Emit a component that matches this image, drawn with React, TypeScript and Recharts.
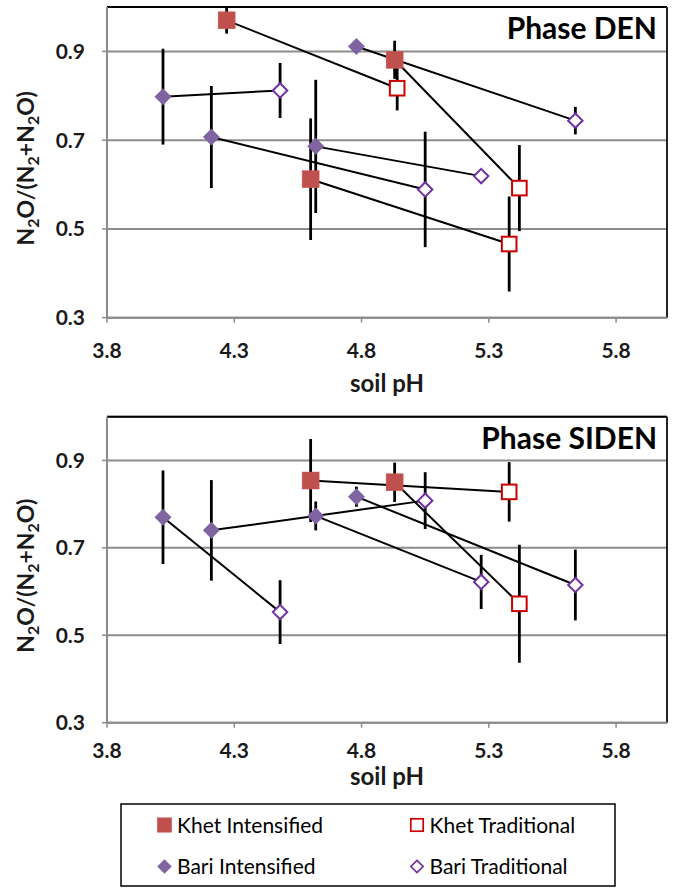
import React from "react";
import { ScatterChart, Scatter, XAxis, YAxis, CartesianGrid, ErrorBar, ReferenceLine } from "recharts";

const FONT = "Lato, 'Open Sans', sans-serif";
const GRID = "#8c8c8c";

const phTicks = [3.8, 4.3, 4.8, 5.3, 5.8];
const ratioTicks = [0.3, 0.5, 0.7, 0.9];

// soil pH per site; intensified[i] is paired with traditional[i]
const khetIntPh = [4.27, 4.93, 4.6];
const khetTradPh = [4.94, 5.42, 5.38];
const bariIntPh = [4.02, 4.78, 4.21, 4.62];
const bariTradPh = [4.48, 5.64, 5.05, 5.27];

// Phase DEN
const denKhetInt = [0.97, 0.881, 0.612];
const denKhetIntErr = [0.03, 0.043, 0.137];
const denKhetTrad = [0.817, 0.592, 0.466];
const denKhetTradErr = [0.05, 0.097, 0.107];
const denBariInt = [0.798, 0.911, 0.707, 0.686];
const denBariIntErr = [0.108, 0.01, 0.115, 0.15];
const denBariTrad = [0.812, 0.744, 0.589, 0.619];
const denBariTradErr = [0.062, 0.031, 0.13, 0.01];

// Phase SIDEN
const sidenKhetInt = [null, 0.85, 0.854];
const sidenKhetIntErr = [null, 0.045, 0.095];
const sidenKhetTrad = [null, 0.572, 0.828];
const sidenKhetTradErr = [null, 0.135, 0.068];
const sidenBariInt = [0.77, 0.817, 0.74, 0.773];
const sidenBariIntErr = [0.107, 0.023, 0.115, 0.033];
const sidenBariTrad = [0.553, 0.615, 0.808, 0.622];
const sidenBariTradErr = [0.073, 0.081, 0.065, 0.062];

type Pt = { x: number; y: number; err: number } | null;

const build = (ph: number[], vals: (number | null)[], errs: (number | null)[]): Pt[] =>
  ph.map((x, i) => (vals[i] == null ? null : { x, y: vals[i] as number, err: errs[i] as number }));

const joinPairs = (a: Pt[], b: Pt[]) =>
  a.map((p, i) => (p && b[i] ? [p, b[i]] : null)).filter(Boolean) as any[][];

const KhetIntShape = (p: any) => (
  <rect x={p.cx - 8.5} y={p.cy - 8.5} width={17} height={17} fill="#C0504D" stroke="#c65d5a" strokeWidth={0.5} />
);
const KhetTradShape = (p: any) => (
  <rect x={p.cx - 7.3} y={p.cy - 7.3} width={14.6} height={14.6} fill="#fff" stroke="#CC0000" strokeWidth={2} />
);
const BariIntShape = (p: any) => (
  <path d={`M${p.cx},${p.cy - 8.5}L${p.cx + 8.5},${p.cy}L${p.cx},${p.cy + 8.5}L${p.cx - 8.5},${p.cy}Z`} fill="#8064A2" />
);
const BariTradShape = (p: any) => (
  <path
    d={`M${p.cx},${p.cy - 7.2}L${p.cx + 7.2},${p.cy}L${p.cx},${p.cy + 7.2}L${p.cx - 7.2},${p.cy}Z`}
    fill="#fff"
    stroke="#7030A0"
    strokeWidth={2}
  />
);
const NoMarker = () => <g />;

const YLabel = ({ viewBox }: any) => {
  const cx = 34;
  const cy = viewBox.y + viewBox.height / 2 + 6;
  const sub = { fontSize: 16, dy: 5 };
  return (
    <text
      x={cx}
      y={cy}
      transform={`rotate(-90, ${cx}, ${cy})`}
      textAnchor="middle"
      fontFamily={FONT}
      fontWeight={700}
      fontSize={23}
      fill="#1a1a1a"
    >
      <tspan>N</tspan>
      <tspan fontSize={sub.fontSize} dy={sub.dy}>2</tspan>
      <tspan dy={-sub.dy}>O/(N</tspan>
      <tspan fontSize={sub.fontSize} dy={sub.dy}>2</tspan>
      <tspan dy={-sub.dy}>+N</tspan>
      <tspan fontSize={sub.fontSize} dy={sub.dy}>2</tspan>
      <tspan dy={-sub.dy}>O)</tspan>
    </text>
  );
};

const makeXLabel = (offset: number) => ({ viewBox }: any) => (
  <text
    x={viewBox.x + viewBox.width / 2}
    y={viewBox.y + offset}
    textAnchor="middle"
    fontFamily={FONT}
    fontWeight={700}
    fontSize={24}
    fill="#1a1a1a"
  >
    soil pH
  </text>
);

const tickStyle = { fontFamily: FONT, fontSize: 21, fontWeight: 700, fill: "#1a1a1a" };

function Panel({
  top,
  height,
  marginTop,
  plotHeight,
  xTickMargin,
  xLabelOffset,
  title,
  titleY,
  khetInt,
  khetTrad,
  bariInt,
  bariTrad,
}: {
  top: number;
  height: number;
  marginTop: number;
  plotHeight: number;
  xTickMargin: number;
  xLabelOffset: number;
  title: string;
  titleY: number;
  khetInt: Pt[];
  khetTrad: Pt[];
  bariInt: Pt[];
  bariTrad: Pt[];
}) {
  const segments = [...joinPairs(khetInt, khetTrad), ...joinPairs(bariInt, bariTrad)];
  const clean = (a: Pt[]) => a.filter(Boolean) as any[];
  const errBar = <ErrorBar dataKey="err" direction="y" width={0} stroke="#000" strokeWidth={2.8} />;
  const XLabel = makeXLabel(xLabelOffset);
  return (
    <div style={{ position: "absolute", left: 0, top, width: 673, height }}>
      <ScatterChart width={673} height={height} margin={{ top: marginTop, right: 6, bottom: 0, left: 0 }}>
        <CartesianGrid vertical={false} stroke={GRID} strokeWidth={2} />
        <XAxis
          type="number"
          dataKey="x"
          domain={[3.8, 6.0]}
          ticks={phTicks}
          allowDataOverflow
          height={height - marginTop - plotHeight}
          tick={tickStyle}
          tickFormatter={(v: number) => v.toFixed(1)}
          tickSize={5}
          tickMargin={xTickMargin}
          axisLine={{ stroke: GRID, strokeWidth: 2 }}
          tickLine={{ stroke: GRID, strokeWidth: 1.5 }}
          label={<XLabel />}
        />
        <YAxis
          type="number"
          dataKey="y"
          domain={[0.3, 1.0]}
          ticks={ratioTicks}
          allowDataOverflow
          width={107}
          tick={tickStyle}
          tickFormatter={(v: number) => v.toFixed(1)}
          tickSize={5}
          tickMargin={17}
          axisLine={{ stroke: GRID, strokeWidth: 2 }}
          tickLine={{ stroke: GRID, strokeWidth: 1.5 }}
          label={<YLabel />}
        />
        <ReferenceLine y={1.0} stroke="#000" strokeWidth={2} />
        <ReferenceLine x={6.0} stroke="#222" strokeWidth={2} />
        {segments.map((seg, i) => (
          <Scatter
            key={`seg-${i}`}
            data={seg}
            line={{ stroke: "#000", strokeWidth: 2 }}
            shape={NoMarker}
            isAnimationActive={false}
          />
        ))}
        <Scatter data={clean(bariInt)} shape={BariIntShape} isAnimationActive={false}>
          {errBar}
        </Scatter>
        <Scatter data={clean(bariTrad)} shape={BariTradShape} isAnimationActive={false}>
          {errBar}
        </Scatter>
        <Scatter data={clean(khetInt)} shape={KhetIntShape} isAnimationActive={false}>
          {errBar}
        </Scatter>
        <Scatter data={clean(khetTrad)} shape={KhetTradShape} isAnimationActive={false}>
          {errBar}
        </Scatter>
      </ScatterChart>
      <svg width={673} height={height} style={{ position: "absolute", left: 0, top: 0, pointerEvents: "none" }}>
        <text x={657} y={titleY} textAnchor="end" fontFamily={FONT} fontWeight={700} fontSize={30} fill="#000">
          {title}
        </text>
      </svg>
    </div>
  );
}

const legendItems = [
  { name: "Khet Intensified", shape: KhetIntShape, col: 0, row: 0 },
  { name: "Khet Traditional", shape: KhetTradShape, col: 1, row: 0 },
  { name: "Bari Intensified", shape: BariIntShape, col: 0, row: 1 },
  { name: "Bari Traditional", shape: BariTradShape, col: 1, row: 1 },
];

function Legend() {
  return (
    <svg width={673} height={888} style={{ position: "absolute", left: 0, top: 0, pointerEvents: "none" }}>
      <rect x={121} y={804} width={494} height={82} fill="#fff" stroke="#000" strokeWidth={1.5} />
      {legendItems.map((it) => {
        const mx = it.col === 0 ? 164.5 : 417;
        const my = it.row === 0 ? 825 : 866.5;
        const Shape = it.shape;
        return (
          <g key={it.name}>
            <g transform={`translate(${mx},${my}) scale(0.85) translate(${-mx},${-my})`}>
              <Shape cx={mx} cy={my} />
            </g>
            <text x={mx + 12.5} y={my + 7.5} fontFamily={FONT} fontSize={21} fill="#000">
              {it.name}
            </text>
          </g>
        );
      })}
    </svg>
  );
}

export default function App() {
  return (
    <div style={{ position: "absolute", left: 0, top: 0, width: 673, height: 888, background: "#fff" }}>
      <Panel
        top={0}
        height={400}
        marginTop={7}
        plotHeight={310.7}
        xTickMargin={20}
        xLabelOffset={74}
        title="Phase DEN"
        titleY={39}
        khetInt={build(khetIntPh, denKhetInt, denKhetIntErr)}
        khetTrad={build(khetTradPh, denKhetTrad, denKhetTradErr)}
        bariInt={build(bariIntPh, denBariInt, denBariIntErr)}
        bariTrad={build(bariTradPh, denBariTrad, denBariTradErr)}
      />
      <Panel
        top={410}
        height={390}
        marginTop={6.7}
        plotHeight={306}
        xTickMargin={15}
        xLabelOffset={62}
        title="Phase SIDEN"
        titleY={39}
        khetInt={build(khetIntPh, sidenKhetInt, sidenKhetIntErr)}
        khetTrad={build(khetTradPh, sidenKhetTrad, sidenKhetTradErr)}
        bariInt={build(bariIntPh, sidenBariInt, sidenBariIntErr)}
        bariTrad={build(bariTradPh, sidenBariTrad, sidenBariTradErr)}
      />
      <Legend />
    </div>
  );
}
